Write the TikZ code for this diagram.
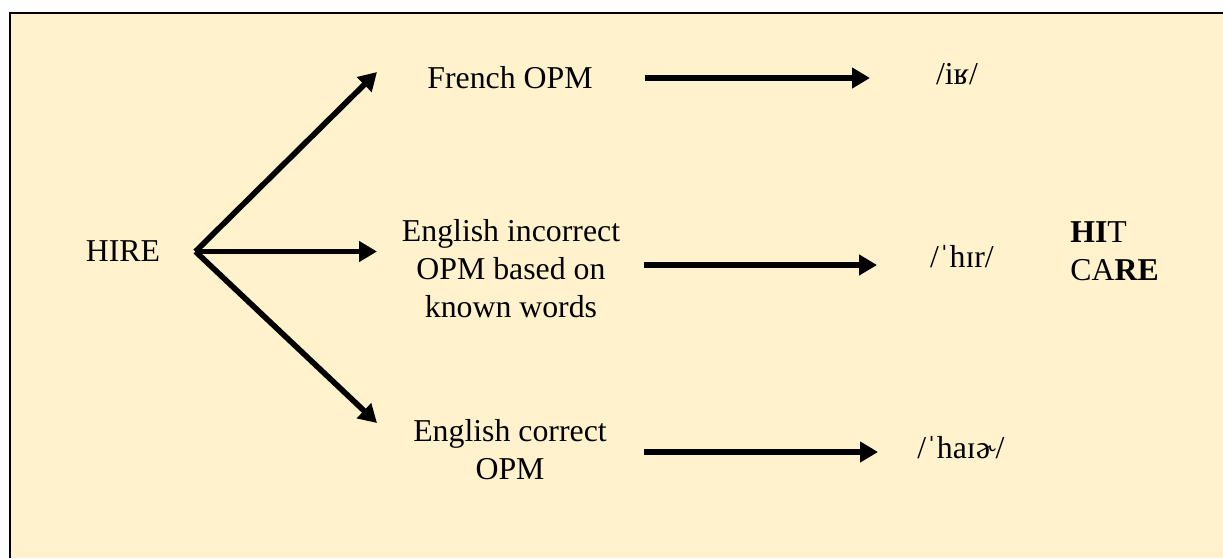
\documentclass[tikz,border=0pt]{standalone}
\usepackage{fontspec}
\setmainfont{Liberation Serif}
\usetikzlibrary{arrows.meta}
\definecolor{paper}{HTML}{FFF2CC}
\begin{document}
\begin{tikzpicture}[
    txt/.style={inner sep=0pt, font=\fontsize{18.1}{21.6}\selectfont, align=center},
    arr/.style={line width=3.2pt, -{Triangle[length=0.36cm,width=0.4cm]}}]
          \useasboundingbox (0,0) rectangle (24.46,11.16);
          \fill[paper] (0.2,0) rectangle (24.46,10.9);
          \draw[line width=1.2pt] (0.2,0) -- (0.2,10.9) -- (24.46,10.9);

          \node[txt] (hire) at (2.46,6.13) {HIRE};
          \node[txt,anchor=base] (french) at (10.2,9.4) {French OPM};
          \node[txt] (incorrect) at (10.22,5.78) {English incorrect\\OPM based on\\known words};
          \node[txt] (correct) at (10.2,2.16) {English correct\\OPM};
          \node[txt,anchor=base] (uvular) at (19.14,9.48) {/iʁ/};
          \node[txt,anchor=base] (hir) at (19.24,5.82) {/ˈhɪr/};
          \node[txt,anchor=base] (haier) at (19.22,2.0) {/ˈhaɪɚ/};
          \node[txt,align=left,anchor=north west] (hitcare) at (21.4,6.74) {\textbf{HI}T\\CA\textbf{RE}};

          \coordinate (fork) at ([xshift=7mm]hire.east);
          \coordinate (up) at (7.54,9.72);
          \coordinate (mid) at (7.54,6.13);
          \coordinate (down) at (7.54,2.7);
          \coordinate (endF) at (17.4,9.6);
          \coordinate (endI) at (17.54,5.86);
          \coordinate (endC) at (17.56,2.12);

          \draw[arr] (fork) -- (up);
          \draw[arr] (fork) -- (mid);
          \draw[arr] (fork) -- (down);
          \draw[arr,shorten <=1.04cm] (french.east |- endF) -- (endF);
          \draw[arr,shorten <=0.48cm] (incorrect.east |- endI) -- (endI);
          \draw[arr,shorten <=0.74cm] (correct.east |- endC) -- (endC);
        \end{tikzpicture}
\end{document}
